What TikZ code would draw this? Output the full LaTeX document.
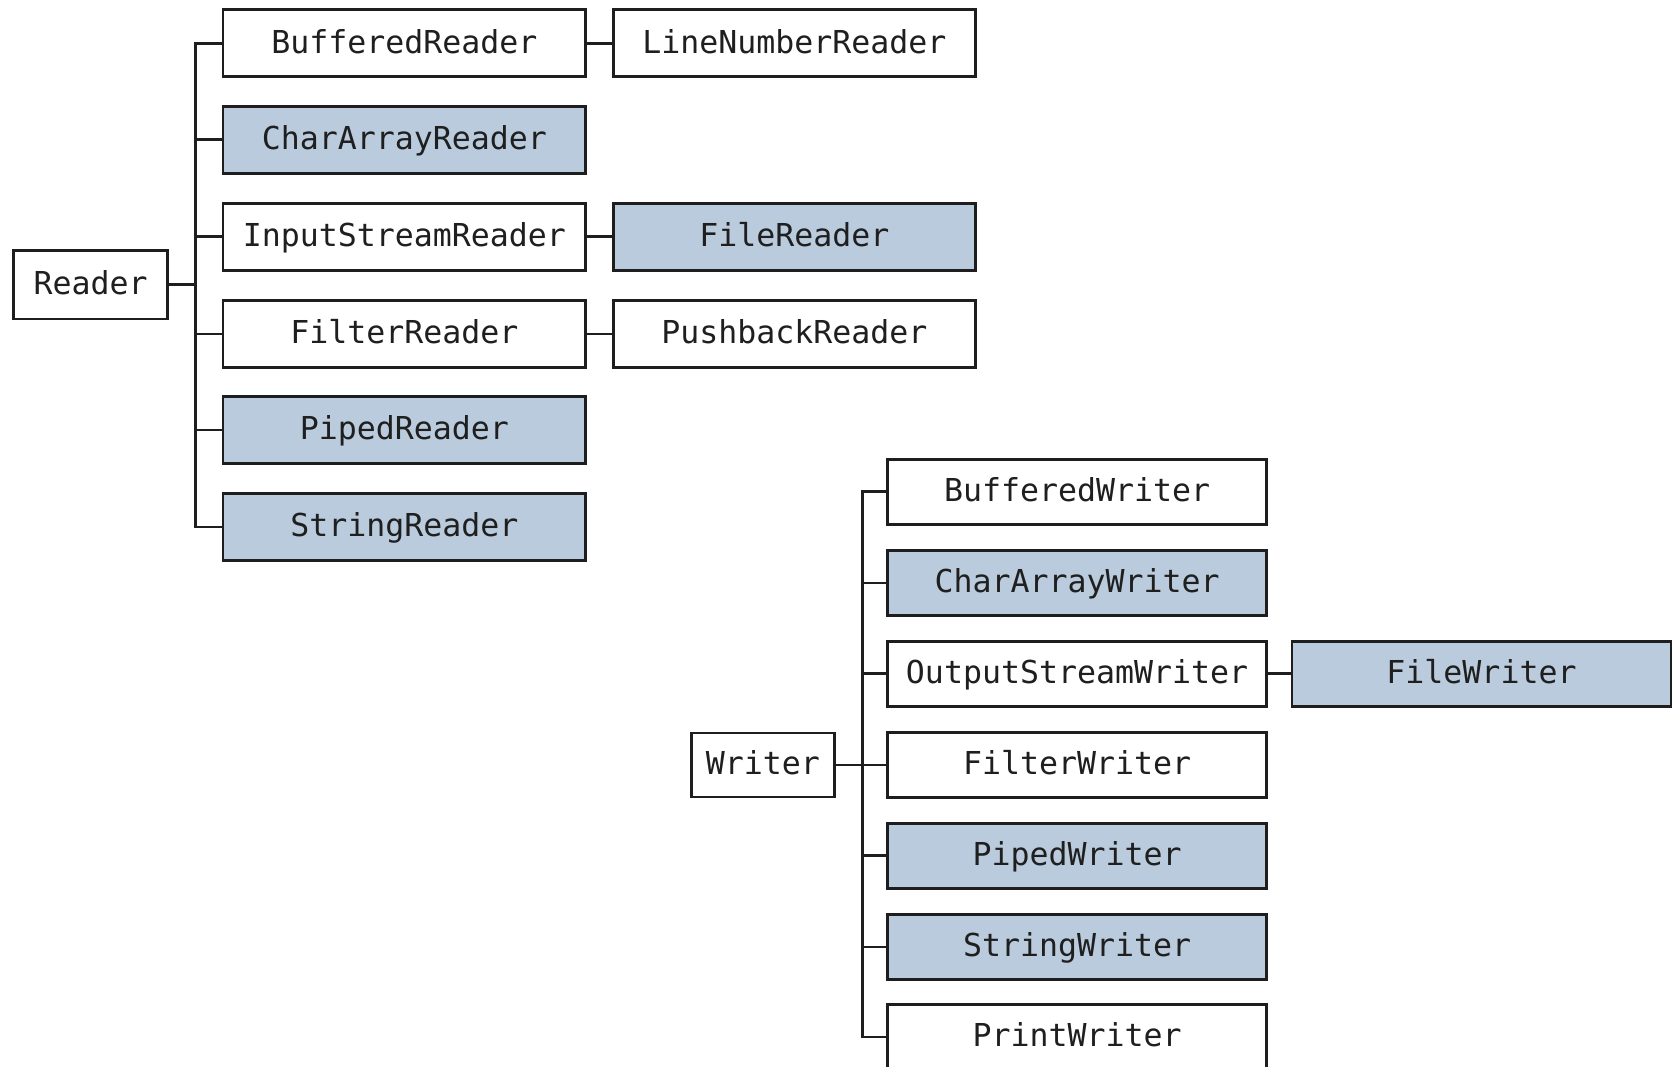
\documentclass[tikz,border=0pt]{standalone}
\usepackage{fontspec}
\newfontfamily\monofam{DejaVu Sans Mono}
\definecolor{boxfill}{RGB}{185,203,220}
\definecolor{edge}{RGB}{30,30,30}
\begin{document}
\begin{tikzpicture}[x=0.5pt,y=-0.5pt,
  cls/.style={draw=edge, line width=1.3pt, fill=white, inner sep=0pt, minimum height=31.5pt,
    text height=10.8pt, text depth=1.6pt,
    font=\monofam\fontsize{14.8}{16}\selectfont, text=black!88},
  hl/.style={cls, fill=boxfill},
  wl/.style={minimum width=170pt},
  wr/.style={minimum width=169.5pt},
  ww/.style={minimum width=177.5pt, minimum height=30.5pt},
  conn/.style={draw=edge, line width=1.3pt}]
\useasboundingbox (0,0) rectangle (1568,1000);
% Reader tree
\node[cls, minimum width=72pt, minimum height=32pt] (reader) at (85,267) {Reader};
\node[cls, wl] (br) at (379,40.5) {BufferedReader};
\node[hl, wl] (car) at (379,131) {CharArrayReader};
\node[cls, wl] (isr) at (379,222) {InputStreamReader};
\node[cls, wl] (fr) at (379,313) {FilterReader};
\node[hl, wl] (pr) at (379,403) {PipedReader};
\node[hl, wl] (sr) at (379,494) {StringReader};
\node[cls, wr] (lnr) at (744.5,40.5) {LineNumberReader};
\node[hl, wr] (filer) at (744.5,222) {FileReader};
\node[cls, wr] (pbr) at (744.5,313) {PushbackReader};
\coordinate (rt) at (183,267);
\draw[conn] (reader.east) -- (rt);
\foreach \c in {br,car,isr,fr,pr,sr} \draw[conn] (\c.west) -| (rt);
\draw[conn] (br.east) -- (lnr.west);
\draw[conn] (isr.east) -- (filer.west);
\draw[conn] (fr.east) -- (pbr.west);
% Writer tree
\node[cls, minimum width=67pt, minimum height=30pt] (writer) at (715,717) {Writer};
\node[cls, ww] (bw) at (1009.5,461) {BufferedWriter};
\node[hl, ww] (caw) at (1009.5,546.5) {CharArrayWriter};
\node[cls, ww] (osw) at (1009.5,631.5) {OutputStreamWriter};
\node[cls, ww] (fw) at (1009.5,717) {FilterWriter};
\node[hl, ww] (pw) at (1009.5,802) {PipedWriter};
\node[hl, ww] (sw) at (1009.5,887.5) {StringWriter};
\node[cls, ww] (prw) at (1009.5,972) {PrintWriter};
\node[hl, ww] (filew) at (1388.5,631.5) {FileWriter};
\coordinate (wt) at (808,717);
\draw[conn] (writer.east) -- (wt);
\foreach \c in {bw,caw,osw,fw,pw,sw,prw} \draw[conn] (\c.west) -| (wt);
\draw[conn] (osw.east) -- (filew.west);
\end{tikzpicture}
\end{document}
